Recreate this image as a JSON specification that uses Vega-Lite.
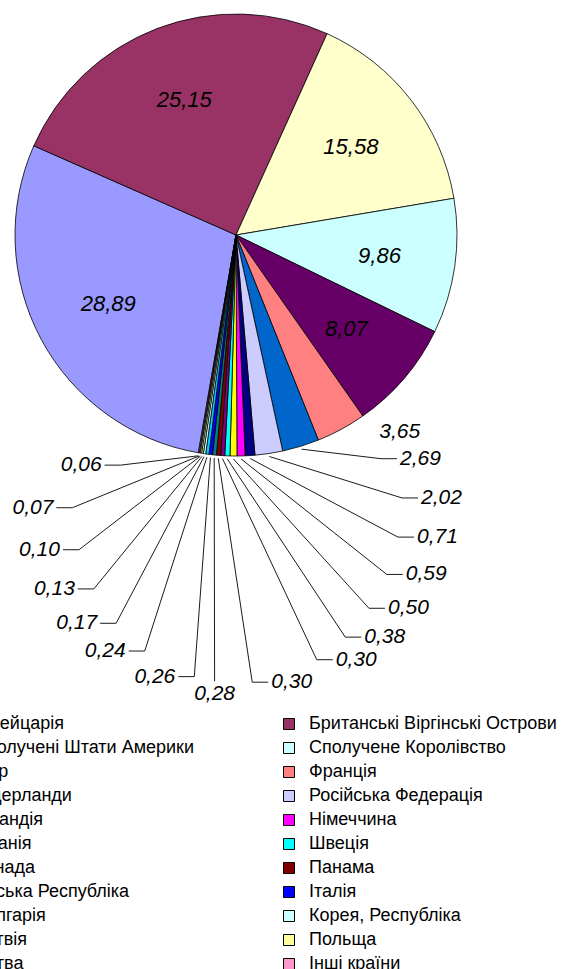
{
  "$schema": "https://vega.github.io/schema/vega-lite/v6.json",
  "width": 472,
  "height": 470,
  "autosize": {"type": "none"},
  "padding": {"left": 0, "top": 0, "right": 93, "bottom": 499},
  "background": "white",
  "config": {"view": {"stroke": null}},
  "data": {
    "values": [
      {"country": "Швейцарія", "share": 28.89},
      {"country": "Британські Віргінські Острови", "share": 25.15},
      {"country": "Сполучені Штати Америки", "share": 15.58},
      {"country": "Сполучене Королівство", "share": 9.86},
      {"country": "Кіпр", "share": 8.07},
      {"country": "Франція", "share": 3.65},
      {"country": "Нідерланди", "share": 2.69},
      {"country": "Російська Федерація", "share": 2.02},
      {"country": "Ірландія", "share": 0.71},
      {"country": "Німеччина", "share": 0.59},
      {"country": "Іспанія", "share": 0.50},
      {"country": "Швеція", "share": 0.38},
      {"country": "Канада", "share": 0.30},
      {"country": "Панама", "share": 0.30},
      {"country": "Чеська Республіка", "share": 0.28},
      {"country": "Італія", "share": 0.26},
      {"country": "Болгарія", "share": 0.24},
      {"country": "Корея, Республіка", "share": 0.17},
      {"country": "Латвія", "share": 0.13},
      {"country": "Польща", "share": 0.10},
      {"country": "Литва", "share": 0.07},
      {"country": "Інші країни", "share": 0.06}
    ]
  },
  "transform": [
    {"window": [{"op": "row_number", "as": "idx"}, {"op": "sum", "field": "share", "as": "cum"}], "frame": [null, 0]},
    {"calculate": "replace(format(datum.share, '.2f'), '.', ',')", "as": "lab"},
    {"calculate": "3.31263 + (datum.cum - datum.share / 2) * 0.0628319", "as": "a"}
  ],
  "layer": [
    {
      "mark": {"type": "arc", "outerRadius": 221, "stroke": "black", "strokeWidth": 0.8},
      "encoding": {
        "theta": {"field": "share", "type": "quantitative", "stack": true, "scale": {"domain": [0, 100], "range": [3.31263, 9.59582]}},
        "order": {"field": "idx", "type": "quantitative"},
        "color": {
          "field": "country",
          "type": "nominal",
          "scale": {
            "domain": ["Швейцарія", "Британські Віргінські Острови", "Сполучені Штати Америки", "Сполучене Королівство", "Кіпр", "Франція", "Нідерланди", "Російська Федерація", "Ірландія", "Німеччина", "Іспанія", "Швеція", "Канада", "Панама", "Чеська Республіка", "Італія", "Болгарія", "Корея, Республіка", "Латвія", "Польща", "Литва", "Інші країни"],
            "range": ["#9999FF", "#993366", "#FFFFCC", "#CCFFFF", "#660066", "#FF8080", "#0066CC", "#CCCCFF", "#000080", "#FF00FF", "#FFFF00", "#00FFFF", "#800080", "#800000", "#008080", "#0000FF", "#00CCFF", "#CCFFFF", "#CCFFCC", "#FFFF99", "#99CCFF", "#FF99CC"]
          },
          "legend": {
            "orient": "none", "legendX": -55, "legendY": 715, "columns": 2, "direction": "horizontal", "columnPadding": 85, "rowPadding": 6,
            "symbolType": "square", "symbolSize": 121, "symbolStrokeColor": "black", "symbolStrokeWidth": 1,
            "labelFont": "Liberation Sans", "labelFontSize": 18, "labelColor": "black", "labelLimit": 0, "labelOffset": 11,
            "title": null, "padding": 0
          }
        }
      }
    },
    {
      "transform": [
        {"filter": "datum.idx <= 5"},
        {"calculate": "145 * sin(datum.a)", "as": "px"},
        {"calculate": "-145 * cos(datum.a)", "as": "py"}
      ],
      "mark": {"type": "text", "font": "Liberation Sans", "fontStyle": "italic", "fontSize": 22, "align": "center", "baseline": "middle", "color": "black"},
      "encoding": {
        "x": {"field": "px", "type": "quantitative", "scale": {"domain": [-236, 236], "nice": false, "zero": false}, "axis": null},
        "y": {"field": "py", "type": "quantitative", "scale": {"domain": [-235, 235], "nice": false, "zero": false, "reverse": true}, "axis": null},
        "text": {"field": "lab"}
      }
    },
    {
      "transform": [
        {"filter": "datum.idx == 6"},
        {"calculate": "256 * sin(datum.a - 0.197)", "as": "px"},
        {"calculate": "-256 * cos(datum.a - 0.197)", "as": "py"}
      ],
      "mark": {"type": "text", "font": "Liberation Sans", "fontStyle": "italic", "fontSize": 21, "align": "center", "baseline": "middle", "color": "black"},
      "encoding": {
        "x": {"field": "px", "type": "quantitative", "scale": {"domain": [-236, 236], "nice": false, "zero": false}, "axis": null},
        "y": {"field": "py", "type": "quantitative", "scale": {"domain": [-235, 235], "nice": false, "zero": false, "reverse": true}, "axis": null},
        "text": {"field": "lab"}
      }
    },
    {
      "transform": [
        {"filter": "datum.idx >= 7"},
        {"calculate": "datum.idx - 7", "as": "k"},
        {"calculate": "(datum.k <= 6 ? -11.5 + 12.1 * datum.k : (datum.k == 9 ? 105 : -7 + 13.1 * datum.k)) * PI / 180", "as": "phi"},
        {"calculate": "(datum.k == 15 ? 118 : (datum.k == 0 ? 147 : 165)) * cos(datum.phi) + 1", "as": "ex"},
        {"calculate": "261 + 187 * sin(datum.phi)", "as": "ey"},
        {"calculate": "224 * sin(datum.a)", "as": "x0"},
        {"calculate": "-224 * cos(datum.a)", "as": "y0"},
        {"calculate": "datum.k < 8 ? datum.ex + 16 : (datum.k > 8 ? datum.ex - 16 : datum.ex)", "as": "tx"},
        {"calculate": "datum.k < 8 ? datum.ex + 19 : datum.ex - 19", "as": "txt"}
      ],
      "layer": [
        {
          "mark": {"type": "rule", "color": "black", "strokeWidth": 0.9},
          "encoding": {
            "x": {"field": "x0", "type": "quantitative", "scale": {"domain": [-236, 236], "nice": false, "zero": false}, "axis": null},
            "y": {"field": "y0", "type": "quantitative", "scale": {"domain": [-235, 235], "nice": false, "zero": false, "reverse": true}, "axis": null},
            "x2": {"field": "ex"},
            "y2": {"field": "ey"}
          }
        },
        {
          "transform": [{"filter": "datum.k != 8"}],
          "mark": {"type": "rule", "color": "black", "strokeWidth": 0.9},
          "encoding": {
            "x": {"field": "ex", "type": "quantitative", "scale": {"domain": [-236, 236], "nice": false, "zero": false}, "axis": null},
            "y": {"field": "ey", "type": "quantitative", "scale": {"domain": [-235, 235], "nice": false, "zero": false, "reverse": true}, "axis": null},
            "x2": {"field": "tx"},
            "y2": {"field": "ey"}
          }
        },
        {
          "transform": [{"filter": "datum.k < 8"}],
          "mark": {"type": "text", "font": "Liberation Sans", "fontStyle": "italic", "fontSize": 21, "align": "left", "baseline": "middle", "color": "black"},
          "encoding": {
            "x": {"field": "txt", "type": "quantitative", "scale": {"domain": [-236, 236], "nice": false, "zero": false}, "axis": null},
            "y": {"field": "ey", "type": "quantitative", "scale": {"domain": [-235, 235], "nice": false, "zero": false, "reverse": true}, "axis": null},
            "text": {"field": "lab"}
          }
        },
        {
          "transform": [{"filter": "datum.k > 8"}],
          "mark": {"type": "text", "font": "Liberation Sans", "fontStyle": "italic", "fontSize": 21, "align": "right", "baseline": "middle", "color": "black"},
          "encoding": {
            "x": {"field": "txt", "type": "quantitative", "scale": {"domain": [-236, 236], "nice": false, "zero": false}, "axis": null},
            "y": {"field": "ey", "type": "quantitative", "scale": {"domain": [-235, 235], "nice": false, "zero": false, "reverse": true}, "axis": null},
            "text": {"field": "lab"}
          }
        },
        {
          "transform": [{"filter": "datum.k == 8"}],
          "mark": {"type": "text", "font": "Liberation Sans", "fontStyle": "italic", "fontSize": 21, "align": "center", "baseline": "top", "dy": 2, "color": "black"},
          "encoding": {
            "x": {"field": "ex", "type": "quantitative", "scale": {"domain": [-236, 236], "nice": false, "zero": false}, "axis": null},
            "y": {"field": "ey", "type": "quantitative", "scale": {"domain": [-235, 235], "nice": false, "zero": false, "reverse": true}, "axis": null},
            "text": {"field": "lab"}
          }
        }
      ]
    }
  ]
}
